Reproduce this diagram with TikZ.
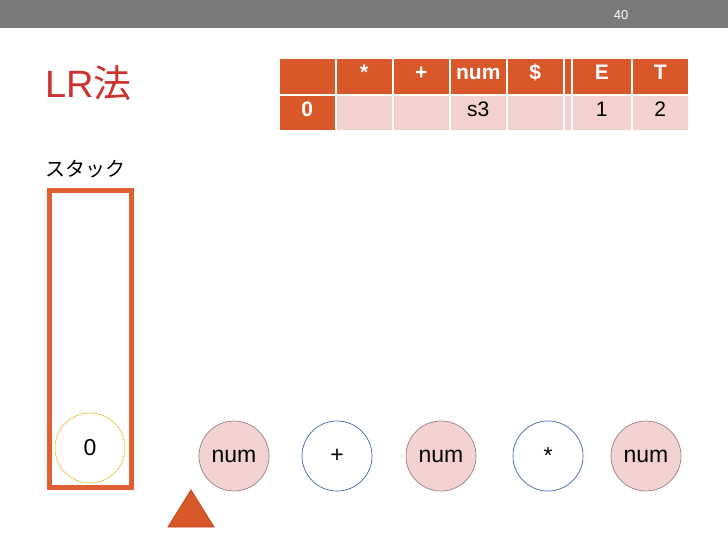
\documentclass[tikz,border=0pt]{standalone}
\usepackage{fontspec}
\setmainfont{Liberation Sans}
\newfontfamily\jpfont{Noto Sans CJK JP}
\definecolor{bargray}{RGB}{122,122,122}
\definecolor{titlered}{RGB}{204,50,48}
\definecolor{tblorange}{RGB}{217,88,42}
\definecolor{tblpink}{RGB}{243,209,207}
\definecolor{stackorange}{RGB}{224,96,50}
\definecolor{numpink}{RGB}{245,210,210}
\definecolor{numedge}{RGB}{150,130,130}
\definecolor{opedge}{RGB}{70,100,170}
\definecolor{zeroedge}{RGB}{232,200,70}
\definecolor{triedge}{RGB}{190,70,30}
\tikzset{
  hdr/.style={fill=tblorange, draw=white, line width=1.5pt, text=white, font=\fontsize{21}{23}\selectfont\bfseries, inner sep=0pt, anchor=north west, text height=0.72em, text depth=0pt},
  cell/.style={fill=tblpink, draw=white, line width=1.5pt, text=black, font=\fontsize{21}{23}\selectfont, inner sep=0pt, anchor=north west, text height=0.72em, text depth=0pt},
  tok/.style={circle, minimum size=70pt, inner sep=0pt, font=\fontsize{23}{25}\selectfont, line width=0.7pt},
  numtok/.style={tok, fill=numpink, draw=numedge},
  optok/.style={tok, fill=white, draw=opedge},
}
\begin{document}
\begin{tikzpicture}[x=1pt,y=-1pt]
\useasboundingbox (0,0) rectangle (728,546);
\fill[white] (0,0) rectangle (728,546);
% top bar
\fill[bargray] (0,0) rectangle (728,28);
\node[text=white, font=\fontsize{13}{14}\selectfont] (pg) at (621,15) {40};
% title
\node[anchor=base west, inner sep=0pt, text=titlered, font=\fontsize{38}{40}\selectfont] (title) at (45,97) {LR{\jpfont 法}};
% table header
\node[hdr, minimum width=57pt, minimum height=37pt] (h0) at (278,57) {};
\node[hdr, minimum width=57pt, minimum height=37pt] (h1) at (335,57) {*};
\node[hdr, minimum width=57pt, minimum height=37pt] (h2) at (392,57) {+};
\node[hdr, minimum width=57pt, minimum height=37pt] (h3) at (449,57) {num};
\node[hdr, minimum width=57pt, minimum height=37pt] (h4) at (506,57) {\$};
\node[hdr, minimum width=8pt, minimum height=37pt] (h5) at (563,57) {};
\node[hdr, minimum width=60pt, minimum height=37pt] (h6) at (571,57) {E};
\node[hdr, minimum width=57pt, minimum height=37pt] (h7) at (631,57) {T};
% table row 0
\node[hdr, minimum width=57pt, minimum height=36pt] (r0) at (278,94) {0};
\node[cell, minimum width=57pt, minimum height=36pt] (r1) at (335,94) {};
\node[cell, minimum width=57pt, minimum height=36pt] (r2) at (392,94) {};
\node[cell, minimum width=57pt, minimum height=36pt] (r3) at (449,94) {s3};
\node[cell, minimum width=57pt, minimum height=36pt] (r4) at (506,94) {};
\node[cell, minimum width=8pt, minimum height=36pt] (r5) at (563,94) {};
\node[cell, minimum width=60pt, minimum height=36pt] (r6) at (571,94) {1};
\node[cell, minimum width=57pt, minimum height=36pt] (r7) at (631,94) {2};
% stack
\node[anchor=base west, inner sep=0pt, font=\jpfont\fontsize{20}{22}\selectfont] (stacklbl) at (45,176) {スタック};
\draw[stackorange, line width=5pt] (49.5,190.5) rectangle (131.5,487);
\node[tok, fill=white, draw=zeroedge] (s0) at (90,448) {0};
% input tokens
\node[numtok] (t1) at (234,456) {num};
\node[optok] (t2) at (337,456) {+};
\node[numtok] (t3) at (441,456) {num};
\node[optok] (t4) at (548,456) {*};
\node[numtok] (t5) at (646,456) {num};
% pointer
\draw[fill=tblorange, draw=triedge, line width=0.8pt] (191,490) -- (214,527) -- (168,527) -- cycle;
\end{tikzpicture}
\end{document}
